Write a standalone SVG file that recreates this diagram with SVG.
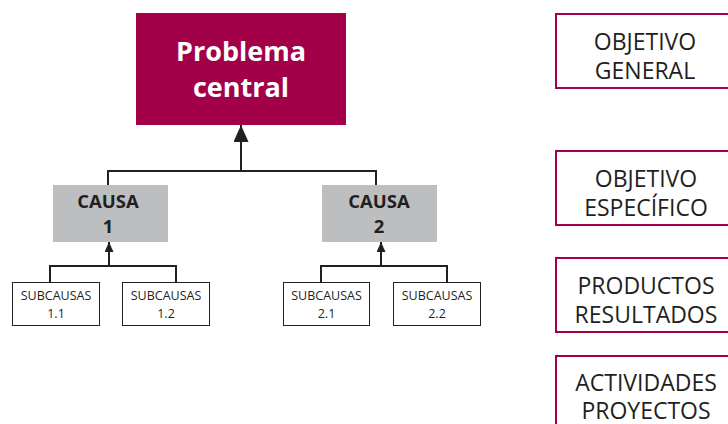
<svg xmlns="http://www.w3.org/2000/svg" width="728" height="424" viewBox="0 0 728 424">
  <style>
    .lbl { font-family: "Open Sans", "Noto Sans", "Liberation Sans", sans-serif; text-anchor: middle; }
    .main { fill: #a3004a; }
    .main-t { fill: #ffffff; font-weight: bold; font-size: 27px; }
    .cause { fill: #bcbec0; }
    .cause-t { fill: #231f20; font-weight: bold; font-size: 18.5px; }
    .sub { fill: #ffffff; stroke: #231f20; stroke-width: 1; }
    .sub-t { fill: #231f20; font-size: 12.5px; }
    .obj { fill: #ffffff; stroke: #a3004a; stroke-width: 2; }
    .obj-t { fill: #231f20; font-size: 23px; }
    .wire { fill: none; stroke: #231f20; stroke-width: 2; }
  </style>
  <defs>
    <!-- arrowheads point along the line direction; tip sits on the line end -->
    <marker id="arrow-lg" markerUnits="userSpaceOnUse" markerWidth="17" markerHeight="15" viewBox="0 0 17 15" refX="17" refY="7.5" orient="auto">
      <path d="M0 0 L17 7.5 L0 15 Z" fill="#231f20"/>
    </marker>
    <marker id="arrow-sm" markerUnits="userSpaceOnUse" markerWidth="10" markerHeight="9" viewBox="0 0 10 9" refX="10" refY="4.5" orient="auto">
      <path d="M0 0 L10 4.5 L0 9 Z" fill="#231f20"/>
    </marker>
  </defs>

  <!-- connectors -->
  <g id="connectors">
    <path class="wire" d="M108 185 V171 H376 V185"/>
    <line class="wire" x1="241" y1="171" x2="241" y2="125" marker-end="url(#arrow-lg)"/>
    <path class="wire" d="M50 282 V266 H176 V282"/>
    <line class="wire" x1="109" y1="266" x2="109" y2="242" marker-end="url(#arrow-sm)"/>
    <path class="wire" d="M321 282 V266 H447 V282"/>
    <line class="wire" x1="381" y1="266" x2="381" y2="242" marker-end="url(#arrow-sm)"/>
  </g>

  <!-- problem tree -->
  <g id="problema-central">
    <rect class="main" x="136" y="13" width="210" height="112"/>
    <text class="lbl main-t" x="241" y="61">Problema</text>
    <text class="lbl main-t" x="241" y="97">central</text>
  </g>

  <g id="causa-1">
    <rect class="cause" x="53" y="185" width="115" height="57"/>
    <text class="lbl cause-t" x="108" y="208">CAUSA</text>
    <text class="lbl cause-t" x="108" y="233">1</text>
  </g>

  <g id="causa-2">
    <rect class="cause" x="322" y="185" width="115" height="57"/>
    <text class="lbl cause-t" x="379" y="208">CAUSA</text>
    <text class="lbl cause-t" x="379" y="233">2</text>
  </g>

  <g id="subcausa-1-1">
    <rect class="sub" x="12.5" y="282.5" width="87" height="43"/>
    <text class="lbl sub-t" x="56" y="300">SUBCAUSAS</text>
    <text class="lbl sub-t" x="56" y="318">1.1</text>
  </g>

  <g id="subcausa-1-2">
    <rect class="sub" x="122.5" y="282.5" width="87" height="43"/>
    <text class="lbl sub-t" x="166" y="300">SUBCAUSAS</text>
    <text class="lbl sub-t" x="166" y="318">1.2</text>
  </g>

  <g id="subcausa-2-1">
    <rect class="sub" x="283.5" y="282.5" width="86" height="43"/>
    <text class="lbl sub-t" x="326.5" y="300">SUBCAUSAS</text>
    <text class="lbl sub-t" x="326.5" y="318">2.1</text>
  </g>

  <g id="subcausa-2-2">
    <rect class="sub" x="393.5" y="282.5" width="87" height="43"/>
    <text class="lbl sub-t" x="437" y="300">SUBCAUSAS</text>
    <text class="lbl sub-t" x="437" y="318">2.2</text>
  </g>

  <!-- objective column -->
  <g id="objetivo-general">
    <rect class="obj" x="556" y="14" width="200" height="74"/>
    <text class="lbl obj-t" x="645" y="50">OBJETIVO</text>
    <text class="lbl obj-t" x="645" y="79">GENERAL</text>
  </g>

  <g id="objetivo-especifico">
    <rect class="obj" x="556" y="151" width="200" height="74"/>
    <text class="lbl obj-t" x="646" y="187">OBJETIVO</text>
    <text class="lbl obj-t" x="646" y="216">ESPECÍFICO</text>
  </g>

  <g id="productos-resultados">
    <rect class="obj" x="556" y="258" width="200" height="74"/>
    <text class="lbl obj-t" x="646" y="294">PRODUCTOS</text>
    <text class="lbl obj-t" x="646" y="323">RESULTADOS</text>
  </g>

  <g id="actividades-proyectos">
    <rect class="obj" x="556" y="356" width="200" height="90"/>
    <text class="lbl obj-t" x="646" y="391">ACTIVIDADES</text>
    <text class="lbl obj-t" x="646" y="419">PROYECTOS</text>
  </g>
</svg>
